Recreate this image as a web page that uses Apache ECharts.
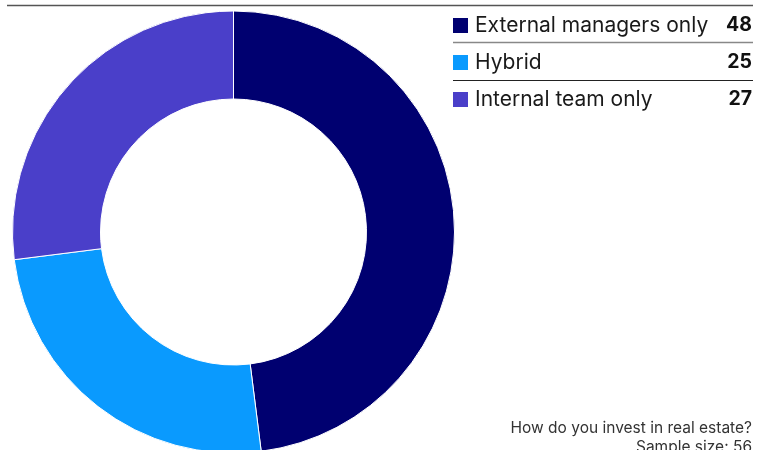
<!DOCTYPE html>
<html><head><meta charset="utf-8">
<script src="https://cdn.jsdelivr.net/npm/echarts@6/dist/echarts.min.js"></script>
<style>html,body{margin:0;padding:0;background:#fff}#c{width:758px;height:450px}</style>
</head><body><div id="c"></div>
<script>
const categories = ["External managers only", "Hybrid", "Internal team only"];
const values = [48, 25, 27];
const colors = ["#000070", "#0A9AFE", "#4A3FC9"];
const question = "How do you invest in real estate?";
const sampleNote = "Sample size: 56";

const chart = echarts.init(document.getElementById('c'));
const data = categories.map((c, i) => ({ name: c, value: values[i], itemStyle: { color: colors[i] } }));
const font = "Inter, Roboto, sans-serif";
chart.setOption({
  animation: false,
  legend: {
    orient: 'vertical', left: 453, top: 15, padding: 0,
    icon: 'rect', itemWidth: 15, itemHeight: 15, itemGap: 16,
    itemStyle: { borderWidth: 0 },
    selectedMode: false,
    data: categories,
    formatter: name => '{n|' + name + '}{v|' + values[categories.indexOf(name)] + '}',
    textStyle: {
      padding: [0, 0, 0, 2],
      rich: {
        n: { width: 232, fontSize: 21, color: '#1a1a1a', fontFamily: font, lineHeight: 22 },
        v: { width: 45, align: 'right', fontSize: 19.5, fontWeight: 'bold', color: '#111', fontFamily: font, lineHeight: 22 }
      }
    }
  },
  graphic: [
    { type: 'line', shape: { x1: 7, y1: 5.5, x2: 753, y2: 5.5 }, style: { stroke: '#555', lineWidth: 1.5 } },
    { type: 'line', shape: { x1: 453, y1: 42.5, x2: 753, y2: 42.5 }, style: { stroke: '#888', lineWidth: 1.5 } },
    { type: 'line', shape: { x1: 453, y1: 80.5, x2: 753, y2: 80.5 }, style: { stroke: '#222', lineWidth: 1 } },
    { type: 'text', x: 752, y: 428, style: { text: question, fontSize: 15.5, fill: '#333', fontFamily: font, textAlign: 'right', textVerticalAlign: 'middle' } },
    { type: 'text', x: 752, y: 447, style: { text: sampleNote, fontSize: 15.5, fill: '#333', fontFamily: font, textAlign: 'right', textVerticalAlign: 'middle' } }
  ],
  series: [{
    type: 'pie',
    center: [233.5, 232],
    radius: [133, 221],
    startAngle: 90,
    clockwise: true,
    label: { show: false },
    labelLine: { show: false },
    emphasis: { disabled: true },
    itemStyle: { borderColor: '#fff', borderWidth: 1 },
    data: data
  }]
});
</script>
</body></html>
